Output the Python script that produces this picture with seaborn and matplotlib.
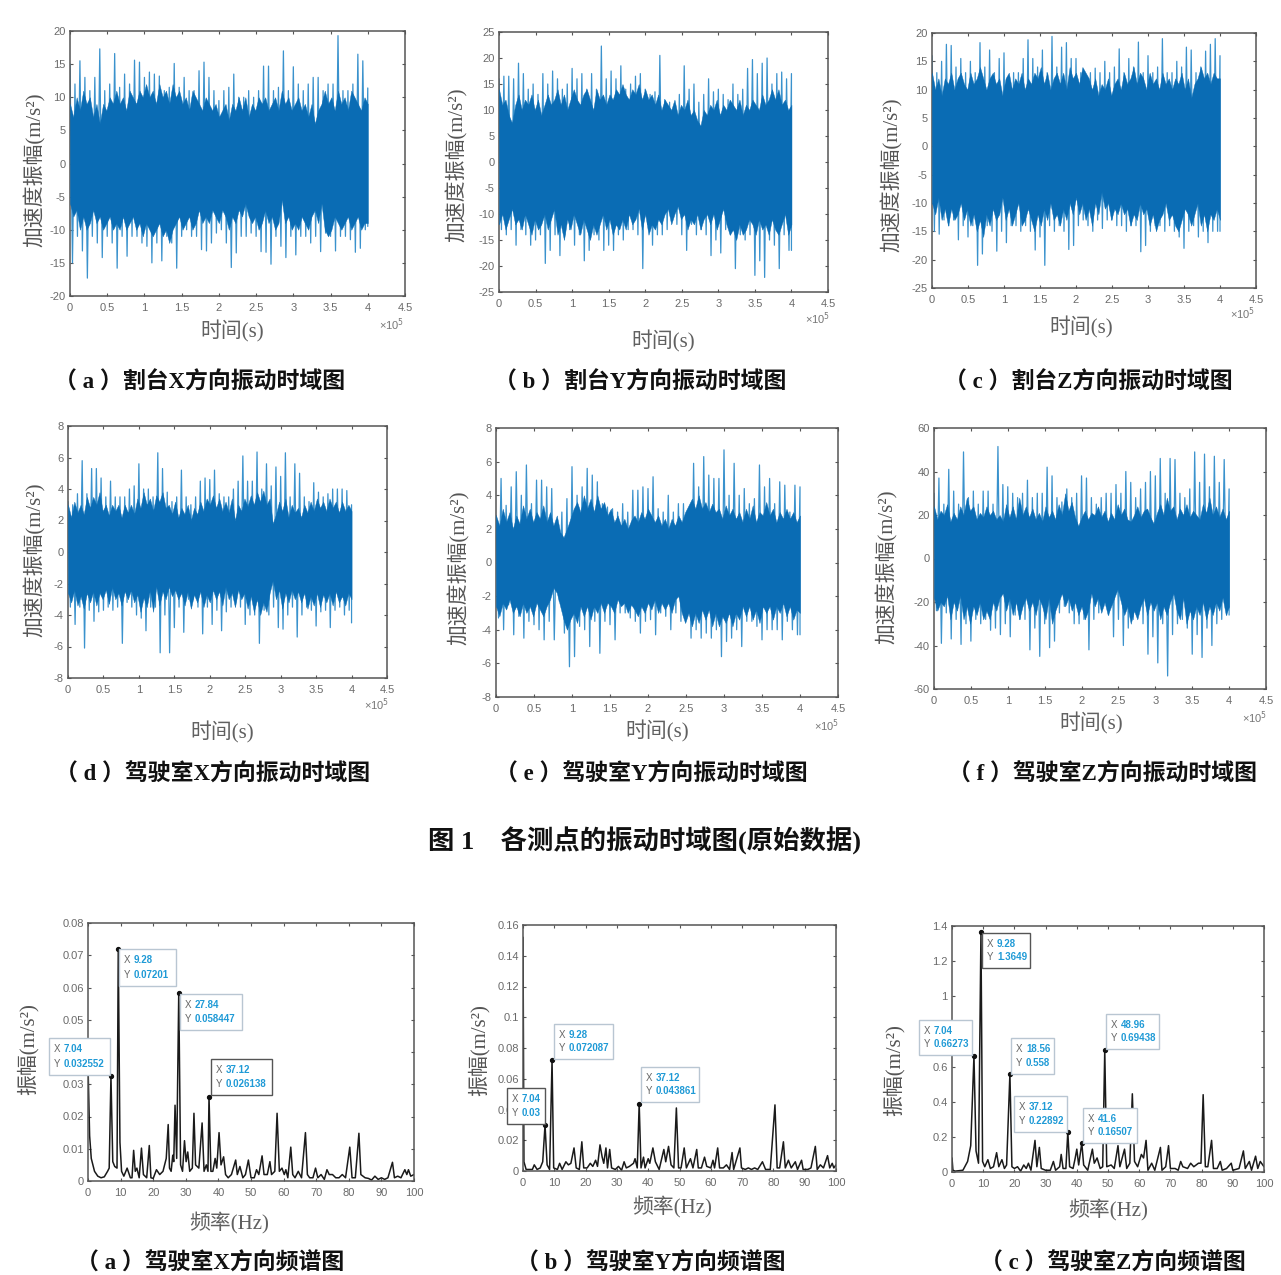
import numpy as np
import matplotlib
matplotlib.use("Agg")
import matplotlib.pyplot as plt
from matplotlib.patches import Rectangle
import seaborn as sns

W, H = 1281, 1275

# time domain: spike tips, 61 readings across 0..4e5
a_top = [15,12,15.5,13,11,13,17.3,11,12,16.6,11.5,13.5,12,15.6,15.3,13,13.8,13.5,13.2,11,11.5,15.1,11.5,13,11,11,14,15.3,13,11,9.5,11,11.5,13.5,10,10,11,10,11,14.7,14.7,11,11.5,17,11,14.6,12,11,12,13,13,11,12,12,19.3,11,11,12,16.5,15.5,11.4]
a_bot = [-15,-11,-13.2,-17.3,-11,-12,-14.2,-11,-12,-15.8,-11,-14,-11,-11,-12,-12.5,-15,-12,-14.7,-11,-12,-15.8,-11,-10,-11,-11,-13,-13.2,-12,-10.5,-10,-12,-15.7,-13.5,-11,-11,-10.5,-11,-13.3,-13.4,-15.2,-11,-12.5,-14.2,-11,-13.8,-11,-11,-12,-11,-13.3,-10.5,-11,-13.2,-11,-11,-11.5,-13.4,-12.8,-10,-9.5]
b_top = [16,16.5,16.5,16,19,17,14,15,13,17,15,17.5,16,14,15,18,16,17,14,17,14,22.3,16,17.5,16,18.5,14,15,16.5,17,14,13,13.5,20.5,12,11.5,9,13,18.5,14,15,11.5,13,16,13.5,14,13,12,15,13,14,18,19.7,17,19,20,15,17,17.3,16,17]
b_bot = [-13,-14,-13,-16,-13,-14,-16,-15,-14,-19.5,-17,-14,-18,-14,-13,-16,-14,-19,-17,-14,-15,-17,-16,-17,-14,-15,-13,-13,-14,-20.5,-12,-16,-14,-14,-13,-11,-12,-14,-17,-12,-14,-13,-14,-18,-15,-17.5,-13,-14,-20.5,-14,-15,-14,-21.8,-19,-22.2,-15,-16,-20.5,-14,-17,-17]
c_top = [16,13,15,18,17.8,14,15.5,13,15,13,18.3,14,17,13,15.5,16.5,12,13,13,15.5,18.8,15.5,14,17,13,19.4,14,17.5,18.3,15.5,15.5,13,12,13,13.8,13,15,13,14,17.2,13,15.5,14,18.4,13,16,13,14,19,13,13,15,14,17.5,17,13,14,16.8,18,19,16]
c_bot = [-15,-15.5,-13,-14,-13,-16.5,-14,-16,-14,-21,-19,-14,-15,-18.5,-15,-17,-14,-14,-15,-14,-15,-18.3,-16,-21,-14,-15,-14,-15,-18.2,-17.5,-14,-13,-14,-15,-13,-14.5,-13,-13,-14,-14,-15,-14,-14,-18.6,-17.5,-15,-14,-14,-15,-14,-15,-16,-18,-15,-14,-16,-15,-17,-15,-15,-15]
d_top = [3.2,3,3.7,5.8,3.7,5.3,5.3,4.7,3.5,4.5,3.5,3.5,3.5,4,4.2,5.6,4,4,3.5,6.3,5.3,3.8,3.2,3.5,5.2,3.5,3,3.5,4.5,4.7,4.6,5.2,3.7,3.5,3.5,4,4.5,6.1,4.5,4.5,6.35,4,5.6,4.2,5.4,4.8,6.3,3.5,5.6,5,3.5,3.2,4.4,3.8,3.5,3.7,4,4,4,3.9,3]
d_bot = [-3.5,-4.6,-3.5,-6.1,-3.7,-4.4,-3.8,-3.7,-3.5,-3.7,-3.5,-5.8,-3.2,-3.5,-4,-4.2,-5,-3.5,-3.5,-6.4,-4,-6.4,-4.8,-3.5,-5.1,-3,-3,-3.5,-5.2,-3.5,-4.6,-3.7,-5,-3.8,-3.5,-3.2,-3.5,-4.6,-4,-4,-5.8,-3.7,-4,-3.5,-4.8,-4.9,-4,-3.5,-5.4,-4,-3.5,-3.7,-4.7,-3.8,-3.7,-4.8,-3.7,-3.5,-4,-3.7,-4.5]
e_top = [2.8,5,3.4,4.5,5.4,4,5.8,3.5,4.9,4.9,4.5,4.4,2.5,3,3.8,5.7,4,4.5,5.6,5.2,4.8,3.5,3.3,3.2,3,3.5,3,4.3,4.3,4.5,4.4,5.1,3.2,3,4,3,3.5,3.5,3,5.9,4.5,6.3,5.2,5,5,6.7,4,5.9,4,4.4,3.5,3.8,5.8,4.5,5,3.5,4.8,4.6,3,4.6,4.5]
e_bot = [-3.3,-4,-2.5,-4.3,-3.2,-4.5,-3.5,-3.7,-4,-4.6,-3.5,-4.6,-2.3,-4.2,-6.2,-5.6,-3.8,-4,-5,-3.5,-5.4,-3.5,-3.7,-4.6,-3,-3,-3.3,-3.5,-4.2,-3.5,-3.4,-4.3,-3,-3.2,-4,-3,-3.5,-2.9,-4.5,-4,-4.5,-4.2,-4.5,-4,-5.6,-4.7,-4.5,-4,-5,-3.5,-3.5,-3.8,-4.6,-4,-4,-4,-4.6,-3.5,-4,-4.3,-4.3]
f_top = [30,37,25,41,31,25,49,28,31,25,31,31,25,51.5,34,33,30,28,30,36,28,30,30,42,38,28,26,32,28,30,38,37,28,25,28,30,30,34,30,40,35,28,32,35,40,38,46,30,46,45.5,30,28,32,49,35,48,33,47,35,45.5,32]
f_bot = [-24,-39,-25,-37,-28,-39.5,-30,-38,-28,-30,-28,-33,-32,-35,-30,-36,-26,-28,-28,-42,-32,-45,-30,-41,-38,-25,-22,-25,-30,-30,-28,-42,-28,-25,-22,-26,-36,-28,-40,-32,-28,-25,-30,-44,-36,-48,-30,-54,-35,-30,-28,-32,-44,-35,-45.5,-32,-40,-30,-28,-26,-26]

# time domain: edge of the solid band, about 91 readings across 0..4e5
a_btop = [9,7,10,8,11,9,10,7,9,6,9,8,10,9,11,9,10,8,11,10,9,11,10,12,10,11,9,12,10,11,9,12,10,11,9,10,8,11,10,9,8,10,9,8,9,7,8,9,6.5,9,8,10,8,10,7,9,8,10,9,10,8,9,10,8,11,9,10,8,9,10,8,9,7,9,6,8,9,11,9,10,8,11,9,10,8,11,10,9,8,10,9]
a_bbot = [-6,-8,-7,-10,-8,-10,-9,-7,-9,-8,-10,-9,-8,-10,-9,-10,-8,-10,-9,-8,-10,-9,-11,-9,-10,-11,-10,-9,-11,-10,-12,-10,-9,-8,-10,-9,-8,-10,-9,-7,-9,-8,-9,-7,-8,-9,-7,-8,-10,-8,-9,-7,-8,-6,-8,-9,-8,-10,-9,-7,-9,-8,-10,-9,-5.5,-9,-8,-10,-9,-10,-8,-9,-10,-8,-7,-9,-6,-10,-11,-10,-8,-9,-10,-9,-8,-10,-9,-8,-10,-9,-9]
b_btop = [14,11,12,9,7.5,11,13,10,12,11,13,10,12,9,11,13,11,12,14,11,13,10,12,14,12,11,13,14,12,10,14,12,13,11,13,12,14,13,15,13,12,14,13,15,12,14,12,13,11,13,10,12,11,10,12,9,11,10,12,9,10,8,7,10,9,11,10,12,9,11,10,12,11,10,12,9,11,10,12,11,10,13,11,12,14,12,14,11,12,10,11]
b_bbot = [-12,-10,-13,-11,-9,-12,-11,-13,-10,-12,-14,-11,-13,-12,-10,-13,-11,-9,-14,-12,-15,-11,-13,-10,-12,-14,-11,-13,-15,-12,-14,-12,-10,-13,-11,-14,-12,-13,-11,-13,-10,-12,-11,-9,-13,-10,-14,-12,-13,-11,-12,-10,-9,-12,-10,-8.5,-11,-10,-13,-11,-12,-10,-13,-11,-10,-12,-10,-13,-11,-9,-12,-14,-13,-15,-12,-14,-13,-11,-12,-14,-11,-13,-12,-14,-11,-13,-14,-12,-10,-14,-12]
c_btop = [13,10,12,9,12,11,13,10,12,13,11,10,13,11,12,14,12,10,12,13,11,12,9,12,13,10,12,11,13,10,12,11,13,12,14,11,13,10,12,13,11,13,10,14,12,13,11,14,13,12,10,12,9,11,10,12,9,11,12,10,13,11,12,14,11,13,12,10,13,11,12,10,13,11,12,10,12,11,13,10,12,8.5,11,12,14,12,13,11,13,12,12]
c_bbot = [-10,-12,-9,-13,-11,-14,-11,-13,-12,-10,-13,-11,-14,-12,-15,-13,-16,-12,-14,-11,-13,-12,-9,-13,-11,-14,-12,-10,-14,-13,-11,-13,-15,-12,-14,-11,-13,-10,-13,-12,-14,-11,-13,-10,-12,-9,-12,-10,-13,-11,-14,-10,-12,-8,-11,-10,-13,-11,-12,-10,-12,-11,-14,-12,-13,-10,-12,-11,-14,-12,-15,-13,-12,-10,-13,-12,-14,-15,-13,-11,-12,-14,-12,-10,-14,-12,-15,-12,-13,-11,-13]
d_btop = [3,2.2,3.2,2.5,3,2.4,3.5,2.8,3.5,3,3.8,2.6,3,2.3,3,2.6,3,2.2,3,2.5,3,2.4,3.4,2.8,3.8,3,3.4,2.6,3.6,3.2,3.8,2.8,3,2.4,3.2,2.2,2.8,2.4,3,2,2.8,2.4,3.2,2.6,3.4,3,3.6,2.8,3.4,2.6,3.2,2.5,3.4,2,3,2.6,3.4,2.9,3.6,3,3.8,3.2,3.9,3,3.4,1.8,2.4,3.2,2.6,3.4,2.2,3,2.5,2.8,2.2,3,2.5,3.2,2.6,3.4,2.8,3.2,2.6,3.4,2.8,3.2,2.5,3.2,2.6,3,2.6]
d_bbot = [-2.6,-3.2,-2.4,-3.4,-2.8,-3.6,-2.6,-3.2,-2.5,-3.4,-2.6,-3,-2.4,-3.3,-2.2,-3,-2.6,-3.4,-2.5,-3,-2.4,-3.2,-2.7,-3.8,-2.9,-3.5,-2.4,-3.8,-2.2,-3.4,-2.5,-3,-2.2,-2.8,-2.4,-3,-2.6,-3.4,-2.5,-3.6,-2.7,-3.2,-2.5,-3.5,-2.7,-3.2,-2.4,-3,-2.5,-3.4,-2.2,-3,-2.6,-3.5,-2.4,-3,-2.6,-3.6,-2.8,-3.8,-3,-4,-3.2,-3.8,-2.6,-1.8,-3,-2.4,-3.6,-2.6,-3.2,-2.4,-3,-2.5,-3.2,-2.6,-3.6,-2.8,-3.4,-2.6,-3.5,-2.7,-3.2,-2.6,-3.4,-2.5,-3.2,-2.8,-3.4,-2.6,-3]
e_btop = [2.8,2.2,3.2,2.4,3,2,2.8,2.3,3.4,2.6,3.2,2.4,3,2.6,3.4,2.4,3,2.2,2.8,1.8,1.5,2,2.6,3.2,3.6,3,4,3.2,3.8,3,4,3.2,3.6,2.8,3.2,2.4,2.8,2.2,2.6,2,2.5,2.8,2.4,3,2.6,3.2,2.8,2.4,2.8,2.2,2.6,2,2.6,2.2,2.8,2.4,3,3.4,3.8,3.2,4,3.2,3.6,3,3.5,3,3.2,2.6,3.4,2.8,3.2,2.6,3,2.4,3.2,2.6,3.4,2.4,3,2.8,3.6,2.8,3.2,2.4,3,2.6,3.2,2.6,3,2.4,2.8]
e_bbot = [-2.6,-3.2,-2.4,-2.8,-2.2,-3,-2.6,-3.2,-2.4,-3,-2.6,-3.2,-2.4,-2.8,-3.2,-2.6,-2.2,-1.5,-1.8,-2.6,-3.4,-4,-3.4,-3,-3.6,-2.6,-3.2,-2.6,-3.4,-2.6,-3,-2.4,-3,-2.4,-2.6,-3,-2.2,-2.6,-2.4,-3,-2.5,-2.8,-3.2,-2.6,-3,-2.4,-2.8,-2.2,-3,-2.4,-2.8,-2.4,-3,-2.2,-2,-3,-3.6,-3,-3.8,-3,-3.6,-2.8,-3.4,-2.8,-3.8,-3,-3.8,-3.2,-3.6,-3,-3.8,-3,-3.4,-2.6,-3.2,-2.6,-3.4,-2.8,-3.6,-2.6,-3,-2.6,-3.4,-2.6,-3,-2.4,-3.2,-2.6,-3.4,-2.8,-3]
f_btop = [24,18,22,20,25,17,21,18,24,20,28,22,24,18,21,19,24,20,22,18,20,17,25,19,24,18,28,20,24,19,23,18,21,17,24,19,22,18,25,20,30,22,26,19,15,19,22,18,21,20,24,19,22,17,21,18,25,20,23,18,17,20,24,19,22,23,19,16,21,25,20,28,22,24,18,23,20,25,19,22,20,18,25,21,28,20,24,19,23,18,22]
f_bbot = [-18,-24,-20,-22,-17,-28,-20,-24,-17,-28,-22,-30,-22,-26,-20,-28,-24,-28,-20,-24,-18,-16,-24,-18,-26,-20,-28,-22,-18,-24,-20,-26,-18,-22,-28,-18,-30,-24,-20,-16,-22,-18,-24,-20,-26,-22,-28,-24,-16,-22,-18,-25,-20,-26,-22,-18,-14,-20,-26,-22,-30,-24,-28,-22,-18,-26,-20,-24,-20,-28,-22,-26,-20,-16,-24,-28,-18,-30,-24,-28,-22,-26,-20,-28,-22,-26,-20,-24,-18,-26,-22]

# spectra
fg_x = [0,0.5,1,2,3,4,5,6,6.5,7.04,7.6,8.2,8.9,9.28,9.8,10.3,11,12,13,13.5,14,14.5,15,15.7,16.4,17,18,18.8,19.3,20,21,22,23,24,24.6,25,25.5,26,26.3,26.7,27.2,27.84,28.4,29,29.6,30.1,30.6,31.2,32,32.5,33,34,35,35.6,36.3,36.8,37.12,37.7,38.3,39,39.5,40.2,40.8,41.6,42.2,43,44,45.3,45.8,46.6,47.5,48.3,49.2,50,51,51.7,52.4,53.4,54,55,55.8,56.3,57.3,58,58.7,59.5,60.2,60.7,61.3,62.2,62.8,63.5,64.5,65.5,66.7,67.3,68,69,69.8,70.5,71.5,72.5,73.3,74,75,76,77,78,79,80.3,81,82,83.1,83.7,85,86,87,88,89,90,91,92,93.4,94,95,96,97.2,97.8,98.3,99,100]
fg_y = [.036,.014,.007,.003,.0015,.001,.0013,.003,.004,.032552,.006,.0045,.004,.07201,.012,.003,.0015,.004,.001,.001,.0095,.003,.004,.001,.0102,.002,.001,.011,.001,.0008,.0035,.002,.003,.007,.0175,.004,.003,.008,.006,.0235,.007,.058447,.005,.003,.0125,.006,.009,.003,.004,.021,.005,.004,.018,.003,.005,.003,.026138,.003,.003,.007,.004,.015,.005,.0075,.002,.001,.002,.0065,.002,.0045,.001,.002,.0065,.001,.001,.0035,.002,.0078,.002,.002,.006,.002,.003,.021,.003,.004,.002,.0035,.001,.0105,.002,.001,.003,.001,.015,.002,.001,.001,.004,.001,.002,.0005,.0035,.002,.002,.001,.001,.002,.001,.0105,.001,.001,.0148,.002,.001,.0008,.0003,.0015,.0005,.001,.0005,.001,.0058,.001,.0015,.001,.0035,.002,.0035,.0015,.002]
fh_x = [0,0.3,1,3,3.6,4.5,5.5,6.3,7.04,7.7,8.5,9.28,9.8,11,11.7,12.5,13.7,14.5,15.3,16.3,17,18,18.8,19.4,20.5,21.5,22.3,23.2,23.8,24.6,25.3,25.8,26.5,27,27.7,28.3,29.5,30.5,31.5,32.3,33,34,35.3,35.8,36.5,37.12,37.7,38.5,39,40,40.5,41.5,42.3,43.5,45,45.6,46.5,47.3,48.2,49,49.7,50.5,51.5,52.2,53.5,54.3,55.5,56,57,58,58.7,60,60.7,61.2,62.2,62.8,64,65,66,66.8,67.3,69.3,69.8,71,72,73,74,75,76.5,77.5,79,80.5,81.2,82,83.2,83.8,84.8,85.7,87,87.7,89,89.5,91,92,93.4,94,95,96,97.3,98,98.8,99.3,100]
fh_y = [.152,.006,.001,.001,.004,.001,.002,.006,.03,.004,.001,.072087,.002,.001,.005,.001,.006,.004,.005,.015,.002,.001,.019,.002,.002,.005,.003,.007,.003,.017,.009,.005,.015,.002,.014,.002,.001,.003,.0005,.006,.002,.003,.005,.008,.002,.043861,.002,.009,.002,.008,.005,.015,.006,.001,.014,.006,.016,.004,.002,.041,.002,.002,.015,.002,.008,.002,.014,.002,.002,.009,.003,.002,.007,.002,.015,.002,.002,.004,.001,.012,.001,.015,.002,.001,.002,.001,.002,.001,.006,.001,.001,.043,.002,.002,.019,.002,.007,.002,.006,.001,.007,.001,.001,.002,.016,.001,.004,.002,.01,.002,.005,.002,.004]
fi_x = [0,.3,1,3.5,5,6,7.04,7.7,8.5,9.28,9.8,10.5,11.5,12.3,13.3,14.3,15,16,16.8,17.5,18.56,19.2,20,21,22,23,23.8,24.5,25.3,26.6,27.2,28,28.6,30,31.5,32.5,33.2,34.5,35,35.6,36.5,37.12,37.7,38.8,39.5,40,40.6,41.6,42.2,43.5,45,45.6,46.5,47.5,48.3,48.96,49.6,51,52,53.2,53.8,55.3,56,57,57.8,58.5,59.5,60.7,61.4,62.2,62.8,64,65,66.8,67.3,68.5,69.4,70,71.5,72.5,73.3,74,75.5,76.5,77.5,79,79.8,80.5,81.2,82,83.2,83.8,85,86,86.6,88,89.5,90,92,93.4,94,95.3,96,97.3,98,98.8,100]
fi_y = [.08,.01,.005,.01,.06,.15,.66273,.12,.05,1.3649,.06,.03,.07,.02,.03,.11,.03,.07,.02,.04,.558,.03,.02,.03,.005,.04,.02,.05,.01,.18,.03,.14,.02,.01,.01,.06,.01,.03,.1,.02,.02,.22892,.03,.02,.08,.13,.04,.16507,.04,.01,.13,.05,.08,.02,.03,.69438,.03,.04,.02,.15,.03,.13,.02,.05,.445,.06,.03,.1,.08,.18,.01,.05,.01,.14,.01,.03,.15,.02,.02,.01,.06,.03,.02,.05,.03,.05,.05,.44,.03,.03,.18,.02,.02,.06,.01,.02,.05,.01,.02,.12,.02,.06,.01,.09,.02,.06,.03]

# data tips: x, y, label strings
tips_g = [(9.28, .07201, "9.28", "0.07201"), (27.84, .058447, "27.84", "0.058447"),
          (7.04, .032552, "7.04", "0.032552"), (37.12, .026138, "37.12", "0.026138")]
tips_h = [(9.28, .072087, "9.28", "0.072087"), (7.04, .03, "7.04", "0.03"),
          (37.12, .043861, "37.12", "0.043861")]
tips_i = [(9.28, 1.3649, "9.28", "1.3649"), (7.04, .66273, "7.04", "0.66273"),
          (18.56, .558, "18.56", "0.558"), (37.12, .22892, "37.12", "0.22892"),
          (48.96, .69438, "48.96", "0.69438"), (41.6, .16507, "41.6", "0.16507")]

t_ticks = [0, 0.5e5, 1e5, 1.5e5, 2e5, 2.5e5, 3e5, 3.5e5, 4e5, 4.5e5]
t_labels = ["0", "0.5", "1", "1.5", "2", "2.5", "3", "3.5", "4", "4.5"]
f_ticks = [0, 10, 20, 30, 40, 50, 60, 70, 80, 90, 100]

ylab_time = "加速度振幅(m/s²)"
ylab_freq = "振幅(m/s²)"

sns.set_theme(style="ticks")
CJK = ["Liberation Serif", "Noto Sans CJK SC", "DejaVu Sans"]
SANS = ["Liberation Sans", "DejaVu Sans"]
plt.rcParams["font.family"] = SANS
plt.rcParams["xtick.direction"] = "in"
plt.rcParams["ytick.direction"] = "in"

fig = plt.figure(figsize=(W / 100, H / 100), dpi=100, facecolor="white")


def px(x, y):
    return x / W, 1 - y / H


def put(x, y, s, size, color="#111111", weight="normal", rot=0, family=CJK, z=6, ha="center"):
    fx, fy = px(x, y)
    fig.text(fx, fy, s, fontsize=size, color=color, fontweight=weight, rotation=rot,
             family=family, ha=ha, va="center", zorder=z)


def make_axes(box, xlim, ylim, xticks, xlabels, yticks, hidden=None):
    x0, y0, x1, y1 = box
    ax = fig.add_axes([x0 / W, 1 - y1 / H, (x1 - x0) / W, (y1 - y0) / H])
    ax.set_xlim(xlim)
    ax.set_ylim(ylim)
    ax.set_xticks(xticks)
    ax.set_xticklabels(xlabels)
    ax.set_yticks(yticks)
    # a tick label sitting wholly under a data tip box is not visible in the source
    ax.set_yticklabels(["" if v == hidden else f"{v:g}" for v in yticks])
    ax.tick_params(axis="x", top=True, length=2.5, width=0.8, color="#555555",
                   labelsize=8, labelcolor="#6a6a6a", pad=5)
    ax.tick_params(axis="y", right=True, length=2.5, width=0.8, color="#555555",
                   labelsize=8, labelcolor="#6a6a6a", pad=3)
    for sp in ax.spines.values():
        sp.set_color("#555555")
        sp.set_linewidth(1.1)
    return ax


def time_panel(box, ylim, step, top, bot, btop, bbot, xlab, ylab, off, cap, cap_text):
    yticks = list(np.arange(ylim[0], ylim[1] + step / 2, step))
    ax = make_axes(box, (0, 4.5e5), ylim, t_ticks, t_labels, yticks)
    tt = np.linspace(0, 4e5, len(top))
    half = (tt[1] - tt[0]) / 2
    xs, ys = [], []
    for i in range(len(top)):
        xs += [tt[i], min(tt[i] + half, 4e5)]
        ys += [top[i], bot[i]]
    sns.lineplot(x=xs, y=ys, ax=ax, sort=False, estimator=None, color="#3a92cd", linewidth=0.9)
    ax.fill_between(np.linspace(0, 4e5, len(btop)), bbot, btop, color="#0a6cb4", linewidth=0.3, zorder=3)
    ax.set_xlabel("")
    ax.set_ylabel("")
    put(xlab[0], xlab[1], "时间(s)", 15, color="#606060")
    put(ylab[0] + 2, ylab[1], ylab_time, 15, color="#555555", rot=90)
    put(off[0], off[1], "×10$^5$", 8, color="#777777", family=SANS)
    put(cap[0] - 5, cap[1] + 2, cap_text, 16.5, weight="bold")


def freq_panel(box, ylim, yticks, fx, fy, tips, boxes, xlab, ylab, cap, cap_text, hidden=None):
    ax = make_axes(box, (0, 100), ylim, f_ticks, [str(v) for v in f_ticks], yticks, hidden)
    sns.lineplot(x=fx, y=fy, ax=ax, sort=False, estimator=None, color="#1a1a1a", linewidth=1.1)
    ax.set_xlabel("")
    ax.set_ylabel("")
    ax.plot([t[0] for t in tips], [t[1] for t in tips], "o", color="#111111", markersize=2.8, zorder=5)
    for tip, (bx0, by0, bx1, by1, edge) in zip(tips, boxes):
        fx0, fy1 = px(bx0, by1)
        fig.add_artist(Rectangle((fx0, fy1), (bx1 - bx0) / W, (by1 - by0) / H, transform=fig.transFigure,
                                 facecolor="white", edgecolor=edge, linewidth=1.0, zorder=5))
        h = by1 - by0
        put(bx0 + 5, by0 + h * 0.31, "X", 7, color="#666666", family=SANS, ha="left")
        put(bx0 + 5, by0 + h * 0.69, "Y", 7, color="#666666", family=SANS, ha="left")
        put(bx0 + 15, by0 + h * 0.31, tip[2], 7, color="#1f9ad6", weight="bold", family=SANS, ha="left")
        put(bx0 + 15, by0 + h * 0.69, tip[3], 7, color="#1f9ad6", weight="bold", family=SANS, ha="left")
    put(xlab[0], xlab[1], "频率(Hz)", 15, color="#606060")
    put(ylab[0] + 2, ylab[1], ylab_freq, 15, color="#555555", rot=90)
    put(cap[0] - 5, cap[1] + 2, cap_text, 16.5, weight="bold")


time_panel((70, 31, 405, 296), (-20, 20), 5, a_top, a_bot, a_btop, a_bbot,
           (232, 331), (33, 170), (392, 325), (205, 381), "（ a ）割台X方向振动时域图")
time_panel((499, 32, 828, 292), (-25, 25), 5, b_top, b_bot, b_btop, b_bbot,
           (663, 341), (455, 165), (818, 319), (645, 381), "（ b ）割台Y方向振动时域图")
time_panel((932, 33, 1256, 288), (-25, 20), 5, c_top, c_bot, c_btop, c_bbot,
           (1081, 327), (890, 175), (1243, 314), (1093, 381), "（ c ）割台Z方向振动时域图")
time_panel((68, 426, 387, 678), (-8, 8), 2, d_top, d_bot, d_btop, d_bbot,
           (222, 732), (33, 560), (377, 705), (218, 773), "（ d ）驾驶室X方向振动时域图")
time_panel((496, 428, 838, 697), (-8, 8), 2, e_top, e_bot, e_btop, e_bbot,
           (657, 731), (457, 568), (827, 726), (656, 773), "（ e ）驾驶室Y方向振动时域图")
time_panel((934, 428, 1266, 689), (-60, 60), 20, f_top, f_bot, f_btop, f_bbot,
           (1091, 723), (885, 567), (1255, 718), (1108, 773), "（ f ）驾驶室Z方向振动时域图")

put(644, 841, "图 1　各测点的振动时域图(原始数据)", 19, weight="bold")

LIGHT, DARK = "#b9c6d2", "#555555"
freq_panel((88, 923, 414, 1181), (0, .08), [0, .01, .02, .03, .04, .05, .06, .07, .08], fg_x, fg_y, tips_g,
           [(119, 949, 176, 986, LIGHT), (180, 994, 242, 1030, LIGHT),
            (49, 1038, 110, 1075, LIGHT), (211, 1059, 272, 1095, DARK)],
           (229, 1223), (26, 1049), (215, 1262), "（ a ）驾驶室X方向频谱图", hidden=.04)
freq_panel((523, 925, 836, 1171), (0, .16), [0, .02, .04, .06, .08, .1, .12, .14, .16], fh_x, fh_y, tips_h,
           [(554, 1024, 613, 1059, LIGHT), (507, 1088, 545, 1124, DARK), (641, 1067, 699, 1102, LIGHT)],
           (672, 1207), (477, 1050), (656, 1262), "（ b ）驾驶室Y方向频谱图")
freq_panel((952, 926, 1264, 1172), (0, 1.4), [0, .2, .4, .6, .8, 1, 1.2, 1.4], fi_x, fi_y, tips_i,
           [(982, 933, 1030, 968, DARK), (919, 1020, 972, 1055, LIGHT), (1011, 1038, 1054, 1074, LIGHT),
            (1014, 1096, 1067, 1132, LIGHT), (1106, 1014, 1159, 1049, LIGHT), (1083, 1108, 1137, 1143, LIGHT)],
           (1108, 1210), (892, 1070), (1118, 1262), "（ c ）驾驶室Z方向频谱图", hidden=.8)

fig.savefig("out.png", dpi=100)
